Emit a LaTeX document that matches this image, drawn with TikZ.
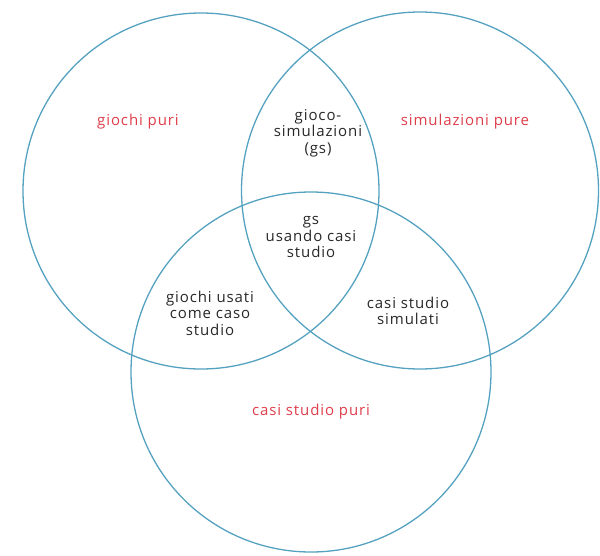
\documentclass[tikz,border=0pt]{standalone}
\usepackage{fontspec}
\setmainfont{Open Sans}[LetterSpace=6]
\definecolor{ring}{RGB}{85,162,192}
\definecolor{labred}{RGB}{222,62,74}
\definecolor{labdark}{RGB}{40,40,40}
\begin{document}
\begin{tikzpicture}[x=1pt,y=-1pt,
  ring/.style={draw=ring,line width=1.3pt},
  pure/.style={text=labred,font=\fontsize{15}{16.5}\selectfont,inner sep=0pt},
  inter/.style={text=labdark,align=center,font=\fontsize{15}{16.5}\selectfont,inner sep=0pt}]
\useasboundingbox (0,0) rectangle (600,555);
\node[ring,circle,minimum size=356pt,inner sep=0pt] (L) at (201,191) {};
\node[ring,circle,minimum size=357pt,inner sep=0pt] (R) at (420,190.5) {};
\node[ring,circle,minimum size=360pt,inner sep=0pt] (B) at (311,372) {};
\node[pure] (gp) at (138,122) {giochi puri};
\node[pure] (sp) at (465,122) {simulazioni pure};
\node[pure] (cp) at (311,412) {casi studio puri};
\node[inter] (gs) at (318,133) {gioco-\\simulazioni\\(gs)};
\node[inter] (gsc) at (311,237) {gs\\usando casi\\studio};
\node[inter] (guc) at (210,313) {giochi usati\\come caso\\studio};
\node[inter] (css) at (408,311) {casi studio\\simulati};
\end{tikzpicture}
\end{document}
